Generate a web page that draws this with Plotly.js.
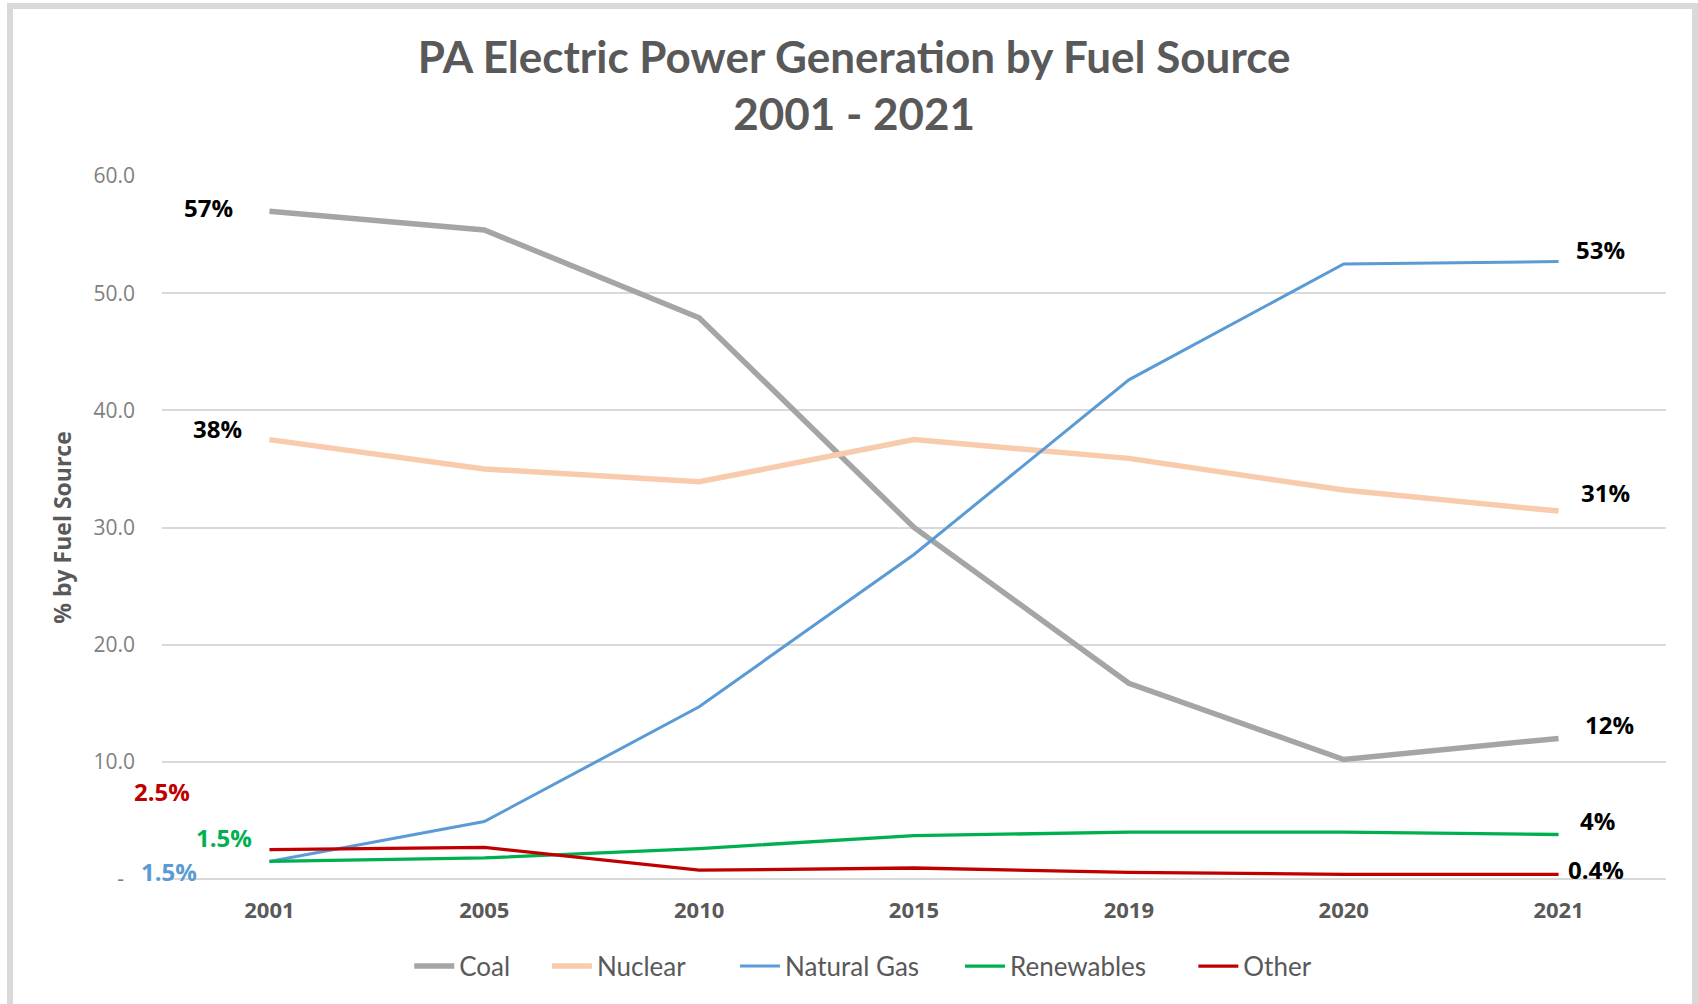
<!DOCTYPE html>
<html>
<head>
<meta charset="utf-8">
<script src="https://cdn.plot.ly/plotly-3.0.1.min.js"></script>
<style>
  html, body { margin: 0; padding: 0; background: #ffffff; overflow: hidden; }
  #frame { position: absolute; left: 7px; top: 3px; width: 1679px; height: 1001px;
           border-left: 6px solid #d9d9d9; border-top: 6px solid #d9d9d9; border-right: 6px solid #d9d9d9; }
  #chart { width: 1679px; height: 995px; }
</style>
</head>
<body>
<div id="frame"><div id="chart"></div></div>
<script>
// ---- data ----
const years = ["2001", "2005", "2010", "2015", "2019", "2020", "2021"];
const seriesNames = ["Coal", "Nuclear", "Natural Gas", "Renewables", "Other"];
const coal       = [57.0, 55.4, 47.9, 30.0, 16.7, 10.2, 12.0];
const nuclear    = [37.5, 35.0, 33.9, 37.5, 35.9, 33.2, 31.4];
const naturalGas = [1.5, 4.9, 14.7, 27.7, 42.6, 52.5, 52.7];
const renewables = [1.5, 1.8, 2.6, 3.7, 4.0, 4.0, 3.8];
const other      = [2.5, 2.7, 0.75, 0.94, 0.57, 0.4, 0.4];
const startLabels = ["57%", "38%", "1.5%", "1.5%", "2.5%"];
const endLabels   = ["12%", "31%", "53%", "4%", "0.4%"];
const yTickVals  = [0, 10, 20, 30, 40, 50, 60];
const yTickText  = ["-\u00a0\u00a0", "10.0", "20.0", "30.0", "40.0", "50.0", "60.0"];

// ---- styling ----
const allSeries = [coal, nuclear, naturalGas, renewables, other];
const colors = ["#a5a5a5", "#f8cbad", "#5b9bd5", "#00b050", "#c00000"];
const widths = [5.5, 5.5, 3, 3.3, 3.3];
const startColors = ["#000000", "#000000", "#5b9bd5", "#00b050", "#c00000"];
const startShift = [[-61, 4], [-52, 11], [-100, -10], [-45, 24], [-107, 58]];
const endShift   = [[51, 14], [47, 19], [42, 12], [39, 14], [37, 5]];
// legend item left positions (fraction of the chart width)
const legendX = [0.236, 0.318, 0.430, 0.564, 0.703];

const legendIds = ["legend", "legend2", "legend3", "legend4", "legend5"];

const traces = allSeries.map((vals, i) => ({
  type: "scatter",
  mode: "lines",
  name: seriesNames[i],
  legend: legendIds[i],
  x: years,
  y: vals,
  line: { color: colors[i], width: widths[i] },
  hoverinfo: "skip"
}));

const labelFont = (c) => ({ family: "Open Sans", size: 24, color: c, weight: 700 });
const annotations = [];
allSeries.forEach((vals, i) => {
  const n = vals.length - 1;
  annotations.push({
    x: 0, y: vals[0], xref: "x", yref: "y",
    text: "<b>" + startLabels[i] + "</b>", showarrow: false,
    xanchor: "center", yanchor: "middle",
    xshift: startShift[i][0], yshift: startShift[i][1],
    font: labelFont(startColors[i])
  });
  annotations.push({
    x: n, y: vals[n], xref: "x", yref: "y",
    text: "<b>" + endLabels[i] + "</b>", showarrow: false,
    xanchor: "center", yanchor: "middle",
    xshift: endShift[i][0], yshift: endShift[i][1],
    font: labelFont("#000000")
  });
});

const layout = {
  width: 1679, height: 995,
  paper_bgcolor: "#ffffff", plot_bgcolor: "#ffffff",
  margin: { l: 149, r: 26, t: 167, b: 125, pad: 0 },
  title: {
    text: "<b>PA Electric Power Generation by Fuel Source<br>2001 - 2021</b>",
    x: 0.501, xref: "container", xanchor: "center",
    y: 0.936, yref: "container", yanchor: "top",
    font: { family: "Lato", size: 44, color: "#595959" }
  },
  xaxis: {
    type: "category", range: [-0.5, 6.5],
    showgrid: false, showline: false, zeroline: false, ticks: "",
    tickfont: { family: "Open Sans", size: 22, color: "#595959", weight: 700 },
    ticklabelstandoff: 16,
    fixedrange: true
  },
  yaxis: {
    range: [0, 60], tickvals: yTickVals, ticktext: yTickText,
    showgrid: true, gridcolor: "#d9d9d9", gridwidth: 2,
    zeroline: true, zerolinecolor: "#d9d9d9", zerolinewidth: 2,
    showline: false, ticks: "",
    tickfont: { family: "Open Sans", size: 21, color: "#808080" },
    ticklabelstandoff: 26,
    title: { text: "<b>% by Fuel Source</b>", standoff: 15,
             font: { family: "Open Sans", size: 23, color: "#595959" } },
    automargin: false,
    fixedrange: true
  },
  showlegend: true,
  annotations: annotations
};

legendIds.forEach((id, i) => {
  layout[id] = {
    orientation: "h", xref: "container", yref: "container",
    x: legendX[i], xanchor: "left", y: 0.038, yanchor: "middle",
    font: { family: "Lato", size: 26, color: "#595959" },
    itemwidth: 40, bgcolor: "rgba(0,0,0,0)", borderwidth: 0
  };
});

Plotly.newPlot("chart", traces, layout, { staticPlot: true, displayModeBar: false });
</script>
</body>
</html>
